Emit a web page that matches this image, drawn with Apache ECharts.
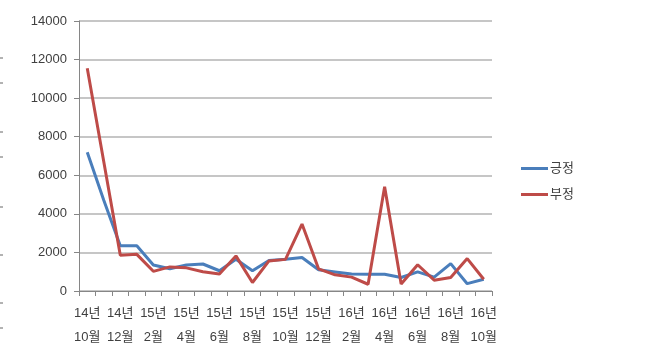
<!DOCTYPE html>
<html><head><meta charset="utf-8">
<script src="https://cdn.jsdelivr.net/npm/echarts@6/dist/echarts.min.js"></script>
<style>html,body{margin:0;padding:0;background:#fff}#c{width:647px;height:364px}</style>
</head><body><div id="c"></div>
<script>
const categories = ['14년\n10월','14년\n11월','14년\n12월','15년\n1월','15년\n2월','15년\n3월','15년\n4월','15년\n5월','15년\n6월','15년\n7월','15년\n8월','15년\n9월','15년\n10월','15년\n11월','15년\n12월','16년\n1월','16년\n2월','16년\n3월','16년\n4월','16년\n5월','16년\n6월','16년\n7월','16년\n8월','16년\n9월','16년\n10월'];
const positive = [7200, 4700, 2350, 2350, 1350, 1150, 1350, 1400, 1050, 1650, 1050, 1580, 1650, 1740, 1100, 990, 880, 870, 870, 700, 990, 720, 1420, 380, 610];
const negative = [11550, 6700, 1850, 1900, 1020, 1250, 1200, 1000, 880, 1820, 440, 1560, 1640, 3470, 1150, 840, 720, 350, 5400, 360, 1360, 560, 700, 1680, 610];
const seriesNames = ['긍정', '부정'];
const yTicks = {min: 0, max: 14000, interval: 2000};

const font = "'Liberation Sans', 'Noto Sans CJK KR', sans-serif";
const txt = '#404040';
const chart = echarts.init(document.getElementById('c'), null, {renderer: 'canvas'});
const dashYs = [58, 83, 132, 157, 207, 255, 303, 328];
chart.setOption({
  animation: false,
  backgroundColor: '#fff',
  textStyle: {fontFamily: font},
  grid: {left: 79, right: 155, top: 21, bottom: 73, containLabel: false},
  legend: {
    orient: 'vertical', left: 516, top: 157, itemGap: 13,
    icon: 'rect', itemWidth: 27, itemHeight: 3,
    textStyle: {fontSize: 13, color: txt, fontFamily: font, padding: [0,0,0,-3]},
    data: seriesNames
  },
  xAxis: {
    type: 'category', data: categories, boundaryGap: true,
    axisLine: {lineStyle: {color: '#868686', width: 1}},
    axisTick: {show: true, interval: 0, length: 5, lineStyle: {color: '#868686'}},
    axisLabel: {interval: 1, color: txt, fontSize: 13, lineHeight: 24, margin: 10, fontFamily: font},
    splitLine: {show: false}
  },
  yAxis: {
    type: 'value', min: yTicks.min, max: yTicks.max, interval: yTicks.interval,
    axisLine: {show: true, lineStyle: {color: '#868686', width: 1}},
    axisTick: {show: true, length: 5, lineStyle: {color: '#868686'}},
    axisLabel: {color: txt, fontSize: 13, margin: 12, fontFamily: font, formatter: v => String(v)},
    splitLine: {lineStyle: {color: '#b3b3b3', width: 1.5}}
  },
  graphic: dashYs.map(y => ({type: 'line', shape: {x1: 0, y1: y, x2: 3, y2: y}, style: {stroke: '#666', lineWidth: 1}})),
  series: [
    {name: seriesNames[0], type: 'line', data: positive, symbol: 'none', lineStyle: {color: '#4a7ebb', width: 3}, itemStyle: {color: '#4a7ebb'}, z: 3},
    {name: seriesNames[1], type: 'line', data: negative, symbol: 'none', lineStyle: {color: '#be4b48', width: 3}, itemStyle: {color: '#be4b48'}, z: 4}
  ]
});
</script></body></html>
